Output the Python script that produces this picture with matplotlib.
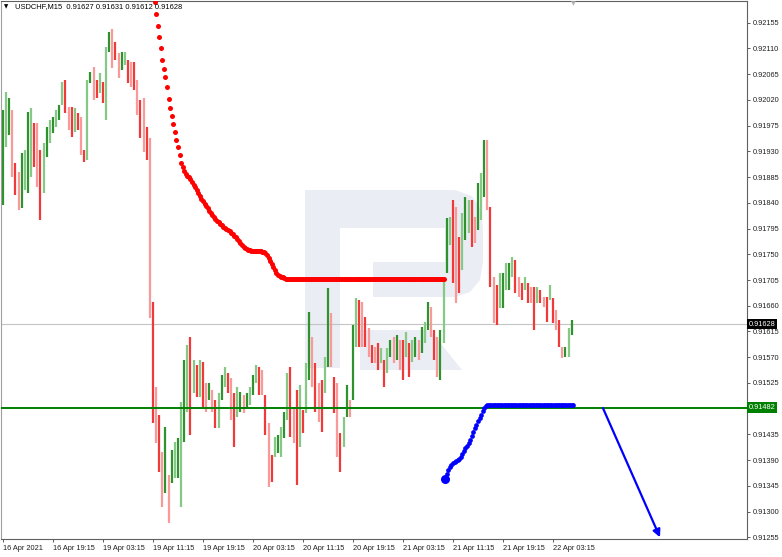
import numpy as np
import matplotlib
matplotlib.use("Agg")
from matplotlib import pyplot as plt
from matplotlib.patches import Polygon

# USDCHF M15, bars merged two by two (30 min), prices in points (1e-5)
highs_pts = [92002, 92034, 92024, 92002, 91910, 91894, 91927, 91932, 91999, 92006,
             91980, 91980, 91932, 91945, 91973, 91985, 91990, 92002, 92011, 92051,
             92055, 92008, 92008, 92006, 91997, 91990, 91932, 92055, 92069, 92078,
             92055, 92067, 92051, 92113, 92139, 92144, 92121, 92102, 92104, 92104,
             92090, 92086, 92086, 92055, 92020, 92024, 91973, 91953, 91666, 91518,
             91469, 91404, 91448, 91364, 91407, 91421, 91428, 91491, 91565, 91591,
             91605, 91565, 91556, 91565, 91561, 91525, 91525, 91512, 91495, 91507,
             91539, 91553, 91542, 91533, 91507, 91518, 91509, 91504, 91507, 91518,
             91539, 91556, 91553, 91548, 91504, 91455, 91399, 91430, 91434, 91448,
             91474, 91542, 91553, 91483, 91512, 91521, 91478, 91560, 91649, 91605,
             91560, 91525, 91530, 91570, 91691, 91647, 91535, 91525, 91437, 91465,
             91521, 91495, 91626, 91674, 91670, 91666, 91640, 91621, 91591, 91588,
             91595, 91586, 91565, 91586, 91600, 91605, 91609, 91600, 91600, 91614,
             91595, 91600, 91605, 91600, 91623, 91632, 91666, 91658, 91618, 91605,
             91618, 91710, 91814, 91815, 91845, 91833, 91780, 91822, 91850, 91845,
             91845, 91815, 91875, 91892, 91950, 91950, 91833, 91710, 91696, 91717,
             91717, 91735, 91735, 91745, 91740, 91710, 91700, 91710, 91700, 91693,
             91693, 91693, 91688, 91675, 91675, 91696, 91674, 91653, 91635, 91588,
             91588, 91621, 91635]
lows_pts = [91836, 91938, 91959, 91885, 91854, 91827, 91831, 91862, 91857, 91885,
            91903, 91868, 91810, 91857, 91920, 91945, 91962, 91973, 91985, 92011,
            91997, 91967, 91955, 91964, 91967, 91924, 91911, 91915, 92050, 92020,
            92024, 92032, 92015, 91985, 92104, 92076, 92090, 92058, 92072, 92081,
            92050, 92043, 92037, 91994, 91953, 91929, 91915, 91638, 91455, 91420,
            91369, 91308, 91332, 91280, 91350, 91358, 91358, 91308, 91421, 91474,
            91434, 91507, 91500, 91500, 91483, 91474, 91495, 91474, 91446, 91446,
            91495, 91518, 91507, 91460, 91413, 91465, 91474, 91472, 91481, 91486,
            91504, 91525, 91504, 91504, 91434, 91343, 91352, 91395, 91402, 91395,
            91428, 91460, 91430, 91420, 91346, 91413, 91437, 91472, 91530, 91518,
            91474, 91457, 91439, 91507, 91553, 91553, 91472, 91395, 91369, 91413,
            91465, 91465, 91495, 91588, 91588, 91588, 91588, 91570, 91560, 91560,
            91548, 91560, 91518, 91542, 91570, 91560, 91565, 91548, 91530, 91570,
            91535, 91561, 91570, 91565, 91577, 91595, 91618, 91605, 91565, 91535,
            91530, 91595, 91717, 91766, 91700, 91665, 91682, 91723, 91775, 91787,
            91763, 91770, 91793, 91810, 91850, 91827, 91693, 91630, 91626, 91656,
            91656, 91688, 91688, 91710, 91682, 91675, 91670, 91688, 91665, 91665,
            91618, 91665, 91665, 91658, 91632, 91670, 91630, 91618, 91588, 91569,
            91570, 91570, 91609]

# red indicator (one value per M15 bar, starts at bar 97)
red_start = 97
red_pts = [92192, 92170, 92150, 92130, 92110, 92089, 92074, 92060, 92043, 92022,
           92006, 91991, 91977, 91963, 91950, 91937, 91923, 91910, 91903, 91896,
           91891, 91887, 91885, 91882, 91877, 91871, 91868, 91863, 91857, 91852,
           91847, 91843, 91838, 91835, 91831, 91826, 91822, 91819, 91815, 91812,
           91808, 91807, 91803, 91801, 91798, 91796, 91794, 91793, 91791, 91787,
           91786, 91782, 91780, 91777, 91773, 91770, 91766, 91763, 91761, 91759,
           91758, 91758, 91756, 91756, 91756, 91756, 91756, 91756, 91756, 91754,
           91754, 91752, 91749, 91744, 91738, 91733, 91728, 91723, 91717, 91714,
           91712, 91710, 91710, 91709]
red_flat = [91706] * 102

# blue indicator (starts at bar 283)
blue_start = 283
blue_pts = [91357, 91366, 91373, 91378, 91381, 91385, 91387, 91388, 91390, 91392,
            91395, 91401, 91406, 91411, 91414, 91420, 91425, 91432, 91439, 91446,
            91451, 91458, 91463, 91469, 91476, 91481, 91485, 91486]
blue_flat = [91486] * 55

level = 0.91482
last_price = 0.91628
arrow_from = (384, 0.91481)
arrow_to = (420.5, 0.91255)

y_ticks = [0.92155, 0.92110, 0.92065, 0.92020, 0.91975, 0.91930, 0.91885, 0.91840,
           0.91795, 0.91750, 0.91705, 0.91660, 0.91615, 0.91570, 0.91525,
           0.91435, 0.91390, 0.91345, 0.91300, 0.91255]
y_labels = ["0.92155", "0.92110", "0.92065", "0.92020", "0.91975", "0.91930", "0.91885",
            "0.91840", "0.91795", "0.91750", "0.91705", "0.91660", "0.91615", "0.91570",
            "0.91525", "0.91435", "0.91390", "0.91345", "0.91300", "0.91255"]
x_labels = ["16 Apr 2021", "16 Apr 19:15", "19 Apr 03:15", "19 Apr 11:15", "19 Apr 19:15",
            "20 Apr 03:15", "20 Apr 11:15", "20 Apr 19:15", "21 Apr 03:15", "21 Apr 11:15",
            "21 Apr 19:15", "22 Apr 03:15"]

highs = np.array(highs_pts) / 1e5
lows = np.array(lows_pts) / 1e5
mid = (highs + lows) / 2
up = np.concatenate([[True], mid[1:] >= mid[:-1]])
bar_x = np.arange(len(highs)) * 2
shade = np.arange(len(highs)) % 2 == 0

FONT = "Liberation Sans"
W, H = 782, 557
fig = plt.figure(figsize=(W / 100, H / 100), dpi=100)
ax = fig.add_axes([1 / W, 18 / H, 746 / W, 538 / H])

# watermark logo (pixel coords of the picture)
logo_col = "#eaedf4"
def px(pts):
    return [(x / W, 1 - y / H) for x, y in pts]
logo = [
    [(305, 190), (455, 190), (472, 196), (481, 210), (483, 228), (483, 262), (480, 280),
     (470, 292), (455, 297), (373, 297), (373, 262), (445, 262), (445, 228), (340, 228),
     (340, 368), (305, 368)],
    [(360, 330), (430, 330), (462, 370), (360, 370)],
]
for shape in logo:
    ax.add_patch(Polygon(px(shape), closed=True, transform=fig.transFigure,
                         facecolor=logo_col, edgecolor="none", zorder=0))

for is_up, dark, light in [(True, "#2f922f", "#86c886"), (False, "#f03a3a", "#f89a9a")]:
    for sh, col in [(True, dark), (False, light)]:
        m = (up == is_up) & (shade == sh)
        ax.vlines(bar_x[m], lows[m], highs[m], colors=col, linewidth=1.6, zorder=2)

ax.axhline(last_price, color="#c4c4c4", lw=0.8, zorder=1)
ax.axhline(level, color="#008000", lw=1.4, zorder=3)

red = np.array(red_pts + red_flat) / 1e5
ax.plot(red_start + np.arange(len(red)), red, "o", color="red", ms=3.6, mew=0, zorder=4)

blue = np.array(blue_pts + blue_flat) / 1e5
ax.plot(blue_start + np.arange(len(blue)), blue, "o", color="blue", ms=3.4, mew=0, zorder=4)
ax.plot(blue_start, blue[0], "o", color="blue", ms=6.5, mew=0, zorder=4)

ax.annotate("", xy=arrow_to, xytext=arrow_from,
            arrowprops=dict(arrowstyle="-|>", color="blue", lw=1.6, mutation_scale=11,
                            shrinkA=0, shrinkB=0), zorder=4)

ax.set_xlim(-1.28, 476.2)
ax.set_ylim(0.91252, 0.92193)
ax.yaxis.tick_right()
ax.set_yticks(y_ticks)
ax.set_yticklabels(y_labels)
ax.set_xticks(np.arange(len(x_labels)) * 32)
ax.set_xticklabels(x_labels, ha="left")
ax.tick_params(axis="both", direction="out", length=2.2, width=0.6, color="#404040",
               labelsize=5.3, labelcolor="#202020")
ax.tick_params(axis="y", pad=1.6)
ax.tick_params(axis="x", pad=2.0)
for lab in ax.get_xticklabels() + ax.get_yticklabels():
    lab.set_fontfamily(FONT)
for s in ax.spines.values():
    s.set_color("#606060")
    s.set_linewidth(0.8)
ax.spines["left"].set_color("#a0a0a0")

# price boxes on the right scale
for val, bg in [(last_price, "black"), (level, "#008000")]:
    ax.text(1.0025, val, f"{val:.5f}", transform=ax.get_yaxis_transform(), ha="left",
            va="center", fontsize=5.3, family=FONT, color="white", zorder=10, clip_on=False,
            bbox=dict(boxstyle="square,pad=0.25", fc=bg, ec="none"))

# header
fig.text(4 / W, 1 - 7 / H, "\u25bc", fontsize=4, va="center", color="black")
fig.text(15 / W, 1 - 7 / H, "USDCHF,M15  0.91627 0.91631 0.91612 0.91628",
         fontsize=5.4, family=FONT, va="center", color="black")
fig.text(573 / W, 1 - 1 / H, "\u25bc", fontsize=4.5, ha="center", va="top", color="#b0b0b0")

fig.savefig("out.png", dpi=100)
